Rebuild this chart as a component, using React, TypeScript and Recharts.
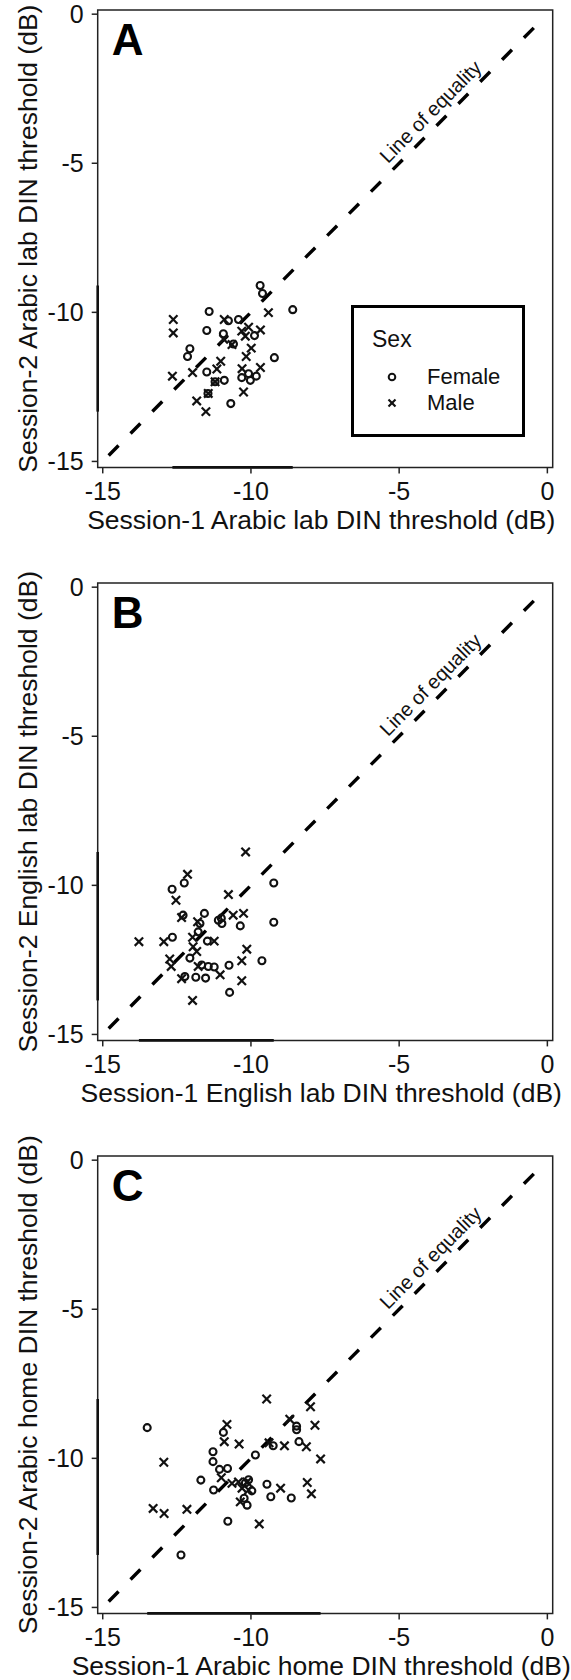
import React from 'react'
import {
  ScatterChart,
  Scatter,
  XAxis,
  YAxis,
  ReferenceLine,
  ReferenceArea,
  Legend,
  Label,
} from 'recharts'

type Pt = [number, number]

// Session-1 (x) vs Session-2 (y) thresholds, dB
const femaleA: Pt[] = [
  [-9.69, -9.1], [-9.61, -9.37], [-8.59, -9.91], [-11.41, -9.97], [-10.76, -10.28],
  [-10.42, -10.24], [-11.49, -10.61], [-10.93, -10.72], [-9.88, -10.78], [-10.59, -11.06],
  [-12.06, -11.22], [-12.14, -11.48], [-9.21, -11.52], [-11.49, -12.0], [-10.9, -12.28],
  [-11.21, -12.33], [-10.31, -12.19], [-10.08, -12.06], [-10.02, -12.28], [-9.82, -12.14],
  [-10.68, -13.06], [-11.45, -12.72],
]
const maleA: Pt[] = [
  [-9.41, -10.01], [-12.62, -10.24], [-12.62, -10.69], [-10.9, -10.24], [-10.31, -10.63],
  [-10.08, -10.5], [-9.68, -10.59], [-10.19, -10.8], [-10.92, -10.9], [-10.64, -11.08],
  [-11.02, -11.64], [-9.99, -11.2], [-10.16, -11.48], [-12.65, -12.14], [-11.97, -12.02],
  [-11.15, -11.9], [-10.3, -11.89], [-9.68, -11.85], [-11.21, -12.33], [-11.44, -12.72],
  [-10.25, -12.67], [-11.83, -12.97], [-11.52, -13.33],
]

const femaleB: Pt[] = [
  [-12.66, -10.13], [-12.25, -9.92], [-9.23, -9.92], [-12.29, -11.0], [-11.57, -10.94],
  [-11.1, -11.17], [-10.98, -11.28], [-11.0, -11.1], [-10.36, -11.36], [-9.23, -11.24],
  [-11.72, -11.28], [-11.78, -11.56], [-12.65, -11.74], [-11.47, -11.87], [-12.06, -12.44],
  [-11.66, -12.67], [-11.44, -12.72], [-11.24, -12.74], [-10.74, -12.68], [-9.63, -12.53],
  [-12.23, -13.06], [-11.86, -13.08], [-11.53, -13.11], [-10.72, -13.59],
]
const maleB: Pt[] = [
  [-10.18, -8.88], [-12.14, -9.63], [-10.76, -10.31], [-12.53, -10.5], [-12.34, -11.08],
  [-13.78, -11.89], [-12.94, -11.89], [-11.97, -11.74], [-11.24, -11.87], [-11.8, -11.22],
  [-10.25, -10.94], [-10.6, -11.0], [-10.14, -12.14], [-12.74, -12.47], [-12.69, -12.72],
  [-10.31, -12.53], [-11.83, -12.22], [-11.95, -12.06], [-11.78, -12.72], [-11.04, -13.0],
  [-12.34, -13.13], [-10.31, -13.2], [-11.97, -13.86],
]

const femaleC: Pt[] = [
  [-13.5, -8.97], [-10.93, -9.13], [-11.28, -9.78], [-11.28, -10.11], [-11.06, -10.37],
  [-10.79, -10.34], [-11.69, -10.73], [-11.26, -11.06], [-9.85, -9.89], [-9.97, -11.09],
  [-10.23, -11.34], [-10.13, -11.57], [-10.19, -10.83], [-10.08, -10.72], [-9.25, -9.58],
  [-8.38, -9.44], [-8.46, -8.92], [-8.46, -9.04], [-9.46, -10.87], [-9.33, -11.29],
  [-8.64, -11.33], [-10.78, -12.11], [-12.36, -13.24],
]
const maleC: Pt[] = [
  [-9.47, -8.01], [-7.99, -8.27], [-10.81, -8.86], [-10.9, -9.44], [-10.4, -9.52],
  [-8.69, -8.69], [-7.84, -8.89], [-8.87, -9.58], [-8.13, -9.61], [-7.65, -10.02],
  [-9.39, -9.48], [-12.94, -10.13], [-11.0, -10.65], [-10.64, -10.84], [-10.42, -10.79],
  [-10.13, -10.79], [-10.3, -11.0], [-10.08, -11.06], [-10.36, -11.46], [-9.0, -11.0],
  [-8.1, -10.81], [-7.96, -11.19], [-13.3, -11.68], [-12.93, -11.85], [-12.16, -11.71],
  [-9.72, -12.2],
]

const xTicks = [-15, -10, -5, 0]
const yTicks = [-15, -10, -5, 0]
const xDomain: [number, number] = [-15.17, 0.18]
const yDomain: [number, number] = [-15.2, 0.14]
const equalityEnds = [-14.8, -0.15]
const sexLabels = ['Female', 'Male']
const legendTitle = 'Sex'
const equalityText = 'Line of equality'

const panels = [
  {
    letter: 'A',
    xTitle: 'Session-1 Arabic lab DIN threshold (dB)',
    yTitle: 'Session-2 Arabic lab DIN threshold (dB)',
    female: femaleA,
    male: maleA,
    legend: true,
  },
  {
    letter: 'B',
    xTitle: 'Session-1 English lab DIN threshold (dB)',
    yTitle: 'Session-2 English lab DIN threshold (dB)',
    female: femaleB,
    male: maleB,
    legend: false,
  },
  {
    letter: 'C',
    xTitle: 'Session-1 Arabic home DIN threshold (dB)',
    yTitle: 'Session-2 Arabic home DIN threshold (dB)',
    female: femaleC,
    male: maleC,
    legend: false,
  },
]

const INK = '#111'
const PANEL_H = 572.8
const EXTRA = 40 // headroom so long y titles are not clipped by the svg

const Ring = (p: any) => (
  <circle cx={p.cx} cy={p.cy} r={3.5} fill="none" stroke={INK} strokeWidth={2.1} />
)

const Cross = (p: any) => {
  const d = 4.2
  return (
    <g stroke={INK} strokeWidth={2.2}>
      <line x1={p.cx - d} y1={p.cy - d} x2={p.cx + d} y2={p.cy + d} />
      <line x1={p.cx - d} y1={p.cy + d} x2={p.cx + d} y2={p.cy - d} />
    </g>
  )
}

const SexLegend = () => (
  <svg width={174} height={132} style={{ display: 'block' }}>
    <rect x={1.5} y={1.5} width={171} height={129} fill="#fff" stroke="#000" strokeWidth={3} />
    <text x={21} y={42} fontSize={23} fill={INK}>{legendTitle}</text>
    <circle cx={41} cy={72} r={3.3} fill="none" stroke={INK} strokeWidth={2} />
    <text x={76} y={79} fontSize={22} fill={INK}>{sexLabels[0]}</text>
    <g stroke={INK} strokeWidth={2.2}>
      <line x1={37.5} y1={94.5} x2={44.5} y2={101.5} />
      <line x1={37.5} y1={101.5} x2={44.5} y2={94.5} />
    </g>
    <text x={76} y={105} fontSize={22} fill={INK}>{sexLabels[1]}</text>
  </svg>
)

// text sits above the dashed diagonal, about three quarters of the way up
const EqualityLabel = (props: any) => {
  const vb = props.viewBox
  if (!vb || vb.width == null) return null
  const t = 0.764
  const px = vb.x + t * vb.width
  const py = vb.y + vb.height - t * vb.height
  const cx = px - 10.1
  const cy = py - 10.1
  const ang = (-Math.atan2(vb.height, vb.width) * 180) / Math.PI
  return (
    <text
      x={cx}
      y={cy}
      dy="0.35em"
      textAnchor="middle"
      fontSize={20}
      fill={INK}
      transform={`rotate(${ang} ${cx} ${cy})`}
    >
      {equalityText}
    </text>
  )
}

const toXY = (pts: Pt[]) => pts.map(([x, y]) => ({ x, y }))

const Panel = ({ p }: { p: (typeof panels)[number] }) => {
  const all = [...p.female, ...p.male]
  const xs = all.map((d) => d[0])
  const ys = all.map((d) => d[1])
  return (
    <ScatterChart
      width={571}
      height={PANEL_H + EXTRA}
      margin={{ top: 10 + EXTRA, right: 18.3, bottom: 35.4, left: 0 }}
    >
      <XAxis
        type="number"
        dataKey="x"
        domain={xDomain}
        ticks={xTicks}
        allowDataOverflow
        interval={0}
        axisLine={false}
        tickLine={{ stroke: '#222', strokeWidth: 1.5 }}
        tickSize={6}
        tickMargin={8.5}
        height={70}
        tick={{ fontSize: 25, fill: INK }}
      >
        <Label
          value={p.xTitle}
          position="insideBottom"
          offset={8.5}
          dx={-4}
          fontSize={26.5}
          fill={INK}
        />
      </XAxis>
      <YAxis
        type="number"
        dataKey="y"
        domain={yDomain}
        ticks={yTicks}
        allowDataOverflow
        interval={0}
        axisLine={false}
        tickLine={{ stroke: '#222', strokeWidth: 1.5 }}
        tickSize={6}
        tickMargin={8}
        width={97.7}
        tick={{ fontSize: 25, fill: INK }}
      >
        <Label
          value={p.yTitle}
          angle={-90}
          position="insideLeft"
          offset={28}
          fontSize={26.5}
          fill={INK}
          style={{ textAnchor: 'middle' }}
        />
      </YAxis>
      <ReferenceArea
        x1={xDomain[0]}
        x2={xDomain[1]}
        y1={yDomain[0]}
        y2={yDomain[1]}
        fill="none"
        stroke="#222"
        strokeWidth={1.5}
        ifOverflow="visible"
        label={{
          value: p.letter,
          position: 'insideTopLeft',
          offset: 14,
          fontSize: 44,
          fontWeight: 700,
          fill: '#000',
        }}
      />
      {/* data range marks along the axes */}
      <ReferenceLine
        segment={[
          { x: xDomain[0], y: Math.min(...ys) },
          { x: xDomain[0], y: Math.max(...ys) },
        ]}
        stroke="#111"
        strokeWidth={2.6}
        ifOverflow="visible"
      />
      <ReferenceLine
        segment={[
          { x: Math.min(...xs), y: yDomain[0] },
          { x: Math.max(...xs), y: yDomain[0] },
        ]}
        stroke="#111"
        strokeWidth={2.6}
        ifOverflow="visible"
      />
      <ReferenceLine
        segment={[
          { x: equalityEnds[0], y: equalityEnds[0] },
          { x: equalityEnds[1], y: equalityEnds[1] },
        ]}
        stroke="#000"
        strokeWidth={3.4}
        strokeDasharray="14 17"
        ifOverflow="visible"
        label={<EqualityLabel />}
      />
      <Scatter name={sexLabels[0]} data={toXY(p.female)} shape={Ring} isAnimationActive={false} />
      <Scatter name={sexLabels[1]} data={toXY(p.male)} shape={Cross} isAnimationActive={false} />
      {p.legend && (
        <Legend
          layout="horizontal"
          verticalAlign="middle"
          content={() => <SexLegend />}
          wrapperStyle={{
            left: 350.7,
            top: 305 + EXTRA,
            bottom: 'auto',
            right: 'auto',
            width: 174,
            height: 132,
          }}
        />
      )}
    </ScatterChart>
  )
}

export default function App() {
  return (
    <div
      style={{
        position: 'absolute',
        left: 0,
        top: 0,
        width: 571,
        height: 1680,
        overflow: 'hidden',
        background: '#fff',
        fontFamily: '"Liberation Sans", Arial, sans-serif',
      }}
    >
      {panels.map((p, i) => (
        <div
          key={p.letter}
          style={{
            position: 'absolute',
            left: 0,
            top: i * PANEL_H - EXTRA,
            width: 571,
            height: PANEL_H + EXTRA,
          }}
        >
          <Panel p={p} />
        </div>
      ))}
    </div>
  )
}
